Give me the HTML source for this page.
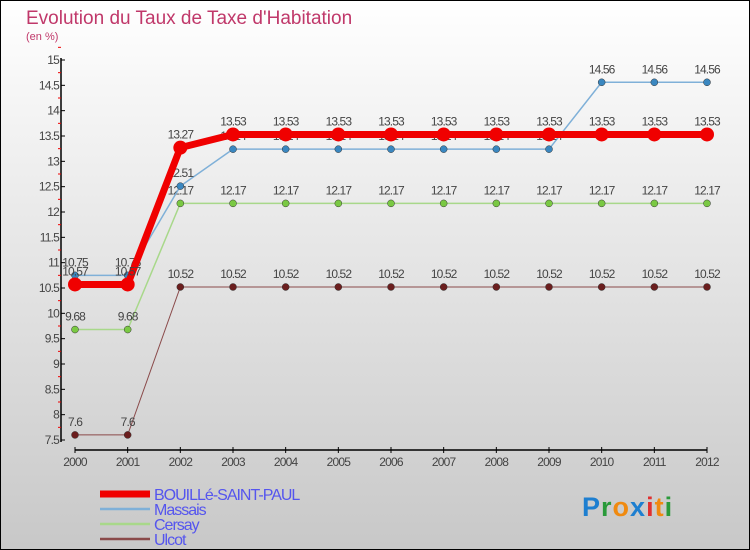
<!DOCTYPE html>
<html><head><meta charset="utf-8"><style>
body{margin:0}
#c{width:750px;height:550px;position:relative;box-sizing:border-box;border:1px solid #000;background:linear-gradient(#fff,#c8c8c8);font-family:"Liberation Sans",sans-serif;overflow:hidden}
</style></head><body>
<div id="c">
<svg id="s" width="750" height="550" style="position:absolute;left:-1px;top:-1px">
<text x="26" y="24" font-size="19" fill="#c0386a">Evolution du Taux de Taxe d'Habitation</text>
<text x="26" y="40" font-size="11" fill="#c0386a">(en %)</text>
</svg>
</div>
<script>
const years=["2000","2001","2002","2003","2004","2005","2006","2007","2008","2009","2010","2011","2012"];
const yTicks=[7.5,8,8.5,9,9.5,10,10.5,11,11.5,12,12.5,13,13.5,14,14.5,15];
const bouille=[10.57,10.57,13.27,13.53,13.53,13.53,13.53,13.53,13.53,13.53,13.53,13.53,13.53];
const massais=[10.75,10.75,12.51,13.24,13.24,13.24,13.24,13.24,13.24,13.24,14.56,14.56,14.56];
const cersay=[9.68,9.68,12.17,12.17,12.17,12.17,12.17,12.17,12.17,12.17,12.17,12.17,12.17];
const ulcot=[7.6,7.6,10.52,10.52,10.52,10.52,10.52,10.52,10.52,10.52,10.52,10.52,10.52];
const series=[
 {name:"Ulcot",data:ulcot,color:"#6b1e1e",line:"#8a4a4a",w:1,r:3.5,key:"ulcot"},
 {name:"Cersay",data:cersay,color:"#7ac943",line:"#a8d88a",w:1.5,r:3.5,key:"cersay"},
 {name:"Massais",data:massais,color:"#3a87c0",line:"#7fb0d8",w:1.5,r:3.5,key:"massais"},
 {name:"BOUILLé-SAINT-PAUL",data:bouille,color:"#f00000",line:"#f00000",w:7,r:7,key:"bouille"}];
const NS="http://www.w3.org/2000/svg",s=document.getElementById('s');
const x=i=>75+i*(632/12), y=v=>440-(v-7.5)*(380/7.5);
function el(t,a,p){const e=document.createElementNS(NS,t);for(const k in a)e.setAttribute(k,a[k]);(p||s).appendChild(e);return e;}
const ax=el('g',{});


el('line',{x1:61,y1:58,x2:61,y2:442,stroke:"#000","stroke-width":1.5},ax);
el('line',{x1:75,y1:450,x2:707,y2:450,stroke:"#000","stroke-width":1.5},ax);
yTicks.forEach(v=>{
 el('line',{x1:61,x2:65,y1:y(v),y2:y(v),stroke:"#000"},ax);
 el('line',{x1:58,x2:61,y1:y(v+0.25),y2:y(v+0.25),stroke:"#e00"},ax);
 const t=el('text',{x:59,y:y(v)+4,"text-anchor":"end","font-size":12,fill:"#444","letter-spacing":"-0.8"},ax);
 
 
 t.textContent=String(v);
});
years.forEach((yr,i)=>{
 el('line',{x1:x(i),x2:x(i),y1:447,y2:453,stroke:"#000"},ax);
 const t=el('text',{x:x(i),y:466,"text-anchor":"middle","font-size":12,fill:"#444","letter-spacing":"-0.8"},ax);
 
 
 t.textContent=yr;
});
series.forEach(se=>{
 const g=el('g',{});
 
 
 el('polyline',{points:se.data.map((v,i)=>x(i)+","+y(v)).join(" "),fill:"none",stroke:se.line,"stroke-width":se.w},g);
 se.data.forEach((v,i)=>{
  const c=el('circle',{cx:x(i),cy:y(v),r:se.r,fill:se.color,stroke:"#333","stroke-width":se.w>2?0:0.5},g);
  
  
  const t=el('text',{x:x(i),y:y(v)-9,"text-anchor":"middle","font-size":12,fill:"#444","letter-spacing":"-0.9"},g);
  
  
  t.textContent=String(v);
 });
});
const lg=el('g',{});


[...series].reverse().forEach((se,i)=>{
 const yy=494+i*15;
 el('line',{x1:100,x2:150,y1:yy,y2:yy,stroke:se.line,"stroke-width":se.w>2?7:2.5},lg);
 const t=el('text',{x:154,y:yy+6,"font-size":16,fill:"#5555ee","letter-spacing":"-1"},lg);
 
 
 t.textContent=se.name;
});
const lo=el('text',{x:582,y:516,"font-size":27,"font-weight":"bold","letter-spacing":"1"});


[["P","#1e7fd0"],["r","#2a9a3a"],["o","#f08a10"],["x","#1e7fd0"],["i","#e03030"],["t","#f08a10"],["i","#2a9a3a"]].forEach(([c,f])=>{const sp=el('tspan',{fill:f},lo);sp.textContent=c;});
</script>
</body></html>
